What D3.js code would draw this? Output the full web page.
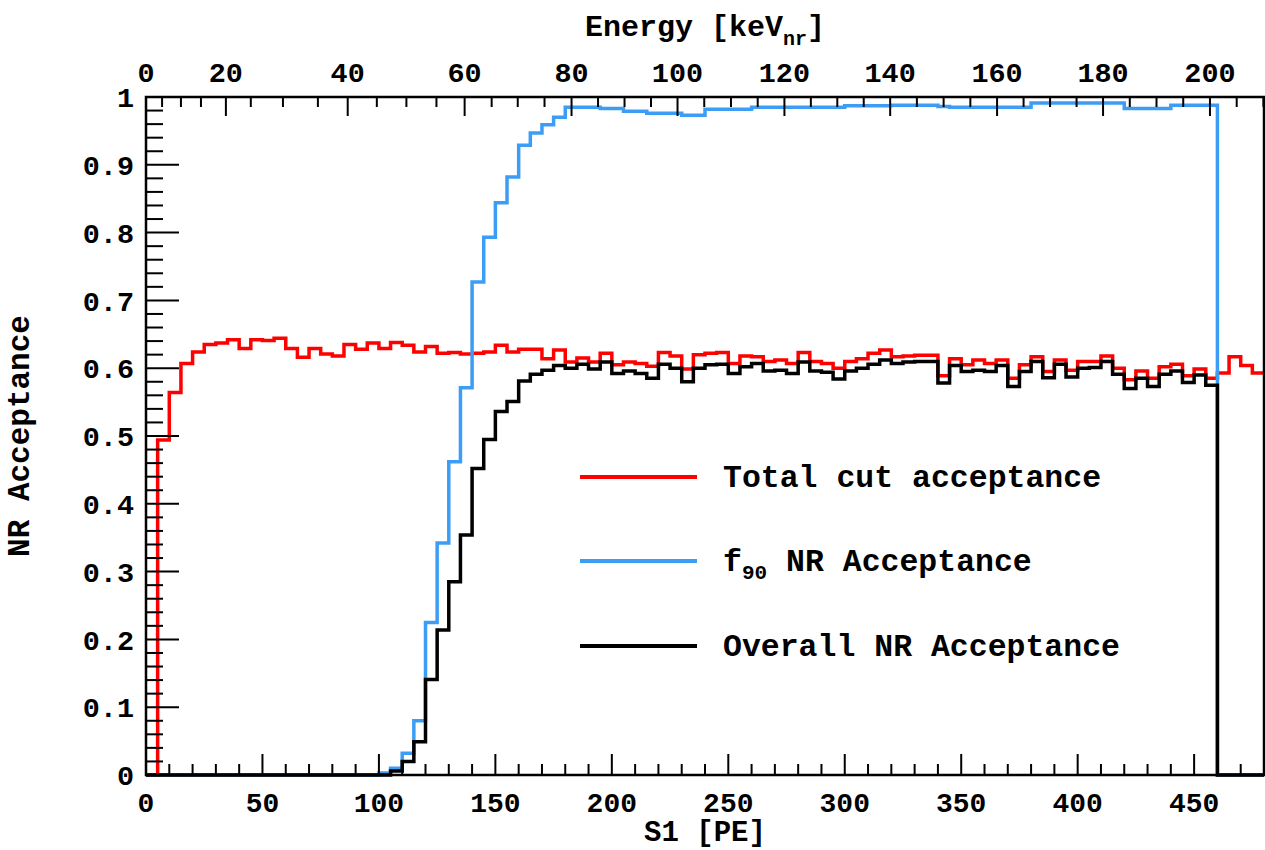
<!DOCTYPE html>
<html>
<head>
<meta charset="utf-8">
<script src="https://cdn.jsdelivr.net/npm/d3@7"></script>
<style>
  body { margin: 0; background: #fff; }
  svg { display: block; }
  text { font-family: "Liberation Mono", "Courier New", monospace; font-weight: bold; fill: #000; }
</style>
</head>
<body>
<svg width="1265" height="850"></svg>
<script>
// bins: 5 PE wide from 0 to 480
const binEdges = d3.range(0, 485, 5);

const totalCut = [
  0, 0.494, 0.564, 0.607, 0.624, 0.635, 0.637, 0.642, 0.629, 0.642,
  0.641, 0.644, 0.629, 0.616, 0.629, 0.621, 0.618, 0.635, 0.628, 0.637,
  0.629, 0.638, 0.634, 0.624, 0.632, 0.622, 0.623, 0.621, 0.622, 0.624,
  0.634, 0.624, 0.628, 0.628, 0.614, 0.627, 0.609, 0.615, 0.609, 0.622,
  0.605, 0.609, 0.607, 0.603, 0.623, 0.618, 0.599, 0.620, 0.622, 0.623,
  0.607, 0.618, 0.617, 0.610, 0.612, 0.607, 0.623, 0.610, 0.607, 0.600,
  0.610, 0.614, 0.622, 0.627, 0.617, 0.618, 0.619, 0.619, 0.589, 0.614,
  0.605, 0.612, 0.607, 0.612, 0.585, 0.605, 0.617, 0.595, 0.612, 0.597,
  0.610, 0.610, 0.618, 0.600, 0.583, 0.596, 0.585, 0.602, 0.606, 0.589,
  0.599, 0.585, 0.593, 0.617, 0.604, 0.593
];

const f90Acc = [
  0, 0, 0, 0, 0, 0, 0, 0, 0, 0,
  0, 0, 0, 0, 0, 0, 0, 0, 0, 0,
  0.003, 0.010, 0.032, 0.080, 0.225, 0.342, 0.462, 0.571, 0.727, 0.793,
  0.844, 0.882, 0.929, 0.947, 0.959, 0.970, 0.985, 0.985, 0.985, 0.983,
  0.983, 0.979, 0.979, 0.976, 0.976, 0.976, 0.973, 0.973, 0.982, 0.982,
  0.982, 0.982, 0.985, 0.985, 0.985, 0.985, 0.985, 0.985, 0.985, 0.985,
  0.987, 0.987, 0.987, 0.987, 0.988, 0.988, 0.988, 0.988, 0.986, 0.985,
  0.985, 0.985, 0.985, 0.985, 0.985, 0.985, 0.991, 0.991, 0.991, 0.991,
  0.991, 0.991, 0.991, 0.991, 0.983, 0.983, 0.983, 0.983, 0.988, 0.988,
  0.988, 0.988, 0, 0, 0, 0
];

const overallAcc = [
  0, 0, 0, 0, 0, 0, 0, 0, 0, 0,
  0, 0, 0, 0, 0, 0, 0, 0, 0, 0,
  0, 0.006, 0.020, 0.049, 0.141, 0.214, 0.285, 0.354, 0.452, 0.495,
  0.536, 0.551, 0.581, 0.591, 0.597, 0.604, 0.600, 0.606, 0.599, 0.609,
  0.592, 0.596, 0.592, 0.585, 0.606, 0.600, 0.580, 0.600, 0.605, 0.606,
  0.592, 0.602, 0.607, 0.596, 0.597, 0.592, 0.609, 0.596, 0.594, 0.584,
  0.596, 0.600, 0.606, 0.612, 0.607, 0.609, 0.610, 0.610, 0.578, 0.604,
  0.595, 0.597, 0.595, 0.604, 0.573, 0.595, 0.610, 0.586, 0.606, 0.587,
  0.600, 0.601, 0.610, 0.591, 0.570, 0.585, 0.573, 0.591, 0.596, 0.579,
  0.590, 0.575, 0, 0, 0, 0
];

// top axis: energy (keVnr) positions read as S1 values
const energyKeV = [0, 5, 10, 15, 20, 25, 30, 35, 40, 45, 50, 55, 60, 65, 70, 75, 80, 100, 120, 140, 160, 180, 200];
const energyS1 = [0, 6.9, 15.0, 23.6, 34.3, 45.0, 58.8, 73.8, 86.6, 99.1, 111.8, 124.7, 136.8, 148.4, 159.6, 171.1, 182.7, 228.2, 274.1, 319.5, 365.4, 410.9, 456.8];

const s1Ticks = [0, 50, 100, 150, 200, 250, 300, 350, 400, 450];
const yTicks = [0, 0.1, 0.2, 0.3, 0.4, 0.5, 0.6, 0.7, 0.8, 0.9, 1];

const series = [
  { name: "Total cut acceptance", values: totalCut, color: "#ff0000" },
  { name: "f90 NR Acceptance", values: f90Acc, color: "#3d9df5" },
  { name: "Overall NR Acceptance", values: overallAcc, color: "#000000" }
];

const svg = d3.select("svg");
const m = { left: 146, right: 1264, top: 97, bottom: 775 };

const x = d3.scaleLinear().domain([0, 480]).range([m.left, m.right]);
const y = d3.scaleLinear().domain([0, 1]).range([m.bottom, m.top]);
const keV = d3.scaleLinear().domain(energyKeV).range(energyS1);

// histograms
const step = d3.line()
  .x(d => x(d[0]))
  .y(d => y(d[1]))
  .curve(d3.curveStepAfter);

series.forEach(s => {
  const pts = s.values.map((v, i) => [binEdges[i], v]);
  pts.push([480, s.values[s.values.length - 1]]);
  svg.append("path")
    .datum(pts)
    .attr("fill", "none")
    .attr("stroke", s.color)
    .attr("stroke-width", 3.5)
    .attr("d", step);
});

// frame
svg.append("rect")
  .attr("x", m.left).attr("y", m.top)
  .attr("width", m.right - m.left).attr("height", m.bottom - m.top)
  .attr("fill", "none").attr("stroke", "#000").attr("stroke-width", 2.5);

// bottom axis, ticks inward
const gx = svg.append("g").attr("transform", `translate(0,${m.bottom})`);
gx.selectAll("line").data(d3.range(0, 481, 10)).enter().append("line")
  .attr("x1", d => x(d)).attr("x2", d => x(d))
  .attr("y1", 0).attr("y2", d => d % 50 === 0 ? -21 : -11)
  .attr("stroke", "#000").attr("stroke-width", 2);
gx.selectAll("text").data(s1Ticks).enter().append("text")
  .attr("x", d => x(d)).attr("y", 37)
  .attr("text-anchor", "middle")
  .attr("font-size", 28)
  .text(d => d);
svg.append("text")
  .attr("x", (m.left + m.right) / 2).attr("y", 841)
  .attr("text-anchor", "middle").attr("font-size", 29)
  .text("S1 [PE]");

// left axis
const gy = svg.append("g").attr("transform", `translate(${m.left},0)`);
gy.selectAll("line").data(d3.range(0, 51)).enter().append("line")
  .attr("x1", 0).attr("x2", d => d % 5 === 0 ? 33 : 17)
  .attr("y1", d => y(d / 50)).attr("y2", d => y(d / 50))
  .attr("stroke", "#000").attr("stroke-width", 2);
gy.selectAll("text").data(yTicks).enter().append("text")
  .attr("x", -12).attr("y", d => y(d))
  .attr("dy", "0.36em")
  .attr("text-anchor", "end")
  .attr("font-size", 28.5)
  .text(d => d === 0 || d === 1 ? d : d3.format(".1f")(d));
svg.append("text")
  .attr("transform", `translate(29,${(m.top + m.bottom) / 2}) rotate(-90)`)
  .attr("text-anchor", "middle").attr("font-size", 31)
  .text("NR Acceptance");

// top axis (energy)
const gt = svg.append("g").attr("transform", `translate(0,${m.top})`);
gt.selectAll("line").data(d3.range(0, 211, 5)).enter().append("line")
  .attr("x1", d => x(keV(d))).attr("x2", d => x(keV(d)))
  .attr("y1", 0).attr("y2", d => d % 20 === 0 ? 19 : 10)
  .attr("stroke", "#000").attr("stroke-width", 2);
gt.selectAll("text").data(d3.range(0, 201, 20)).enter().append("text")
  .attr("x", d => x(keV(d))).attr("y", -15)
  .attr("text-anchor", "middle").attr("font-size", 28.5)
  .text(d => d);
const et = svg.append("text")
  .attr("x", (m.left + m.right) / 2).attr("y", 36)
  .attr("text-anchor", "middle").attr("font-size", 30);
et.append("tspan").text("Energy [keV");
et.append("tspan").attr("font-size", 20).attr("dy", 9).text("nr");
et.append("tspan").attr("dy", -9).text("]");

// legend
const legY = [477, 561, 646];
const leg = svg.append("g");
series.forEach((s, i) => {
  leg.append("line")
    .attr("x1", 580).attr("x2", 697)
    .attr("y1", legY[i]).attr("y2", legY[i])
    .attr("stroke", s.color).attr("stroke-width", 4);
  const t = leg.append("text")
    .attr("x", 723).attr("y", legY[i] + 10)
    .attr("font-size", 31.5);
  if (i === 1) {
    t.append("tspan").text("f");
    t.append("tspan").attr("font-size", 21).attr("dy", 8).text("90");
    t.append("tspan").attr("dy", -8).text(" NR Acceptance");
  } else {
    t.text(s.name);
  }
});
</script>
</body>
</html>
